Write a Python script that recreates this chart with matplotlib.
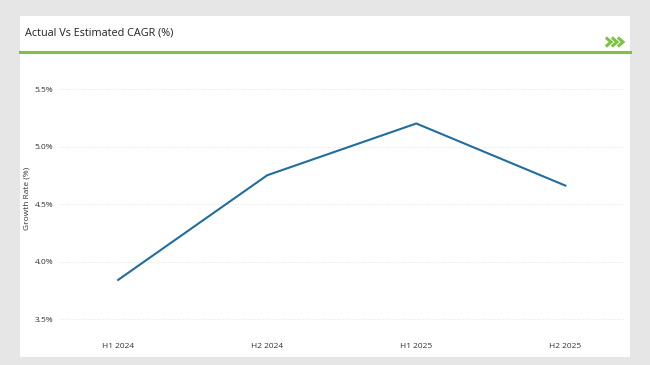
import matplotlib
matplotlib.use("Agg")
import matplotlib.pyplot as plt
from matplotlib.patches import Rectangle
from matplotlib.lines import Line2D

periods = ["H1 2024", "H2 2024", "H1 2025", "H2 2025"]
growth = [3.84, 4.75, 5.20, 4.66]
yticks = [3.5, 4.0, 4.5, 5.0, 5.5]

W, H = 650, 365
plt.rcParams['font.family'] = ['Open Sans', 'DejaVu Sans']

fig = plt.figure(figsize=(W / 100, H / 100), dpi=100)
fig.patch.set_facecolor("#e6e6e6")

# white card
fig.add_artist(Rectangle((20 / W, 1 - 357 / H), 610 / W, 341 / H,
                         transform=fig.transFigure, facecolor="white", edgecolor="none", zorder=0))
# green rule under the title
fig.add_artist(Line2D([20 / W, 630 / W], [1 - 52 / H, 1 - 52 / H], transform=fig.transFigure,
                      color="#7dc242", lw=2.2))
fig.text(25 / W, 1 - 33 / H, "Actual Vs Estimated CAGR (%)", fontsize=7.8, color="#222222",
         va="center", ha="left")
# little green chevrons at the right of the header
for x0 in (607, 613, 619):
    fig.add_artist(Line2D([x0 / W, (x0 + 4) / W, x0 / W],
                          [1 - 38.5 / H, 1 - 42 / H, 1 - 45.5 / H],
                          transform=fig.transFigure, color="#7dc242", lw=2.2,
                          solid_joinstyle="miter"))

ax = fig.add_axes([60 / W, 1 - 330.5 / H, 565 / W, 264.5 / H])
ax.set_facecolor("none")
ax.plot(range(len(periods)), growth, color="#1f6e9e", lw=1.5)

ax.set_xlim(-0.39, 3.4)
ax.set_ylim(3.4, 5.7)
ax.set_xticks(range(len(periods)))
ax.set_xticklabels(periods)
ax.set_yticks(yticks)
ax.set_yticklabels([f"{v:.1f}%" for v in yticks])
ax.tick_params(axis="both", length=0, labelsize=6, colors="#333333")
ax.tick_params(axis="x", pad=9)
ax.tick_params(axis="y", pad=5)
ax.grid(axis="y", color="#dddddd", lw=0.6, ls=(0, (1, 2)))
for s in ax.spines.values():
    s.set_visible(False)
ax.set_ylabel("Growth Rate (%)", fontsize=6, color="#333333")
ax.yaxis.set_label_coords(-0.053, 0.5)

fig.savefig("out.png", dpi=100, facecolor=fig.get_facecolor())
